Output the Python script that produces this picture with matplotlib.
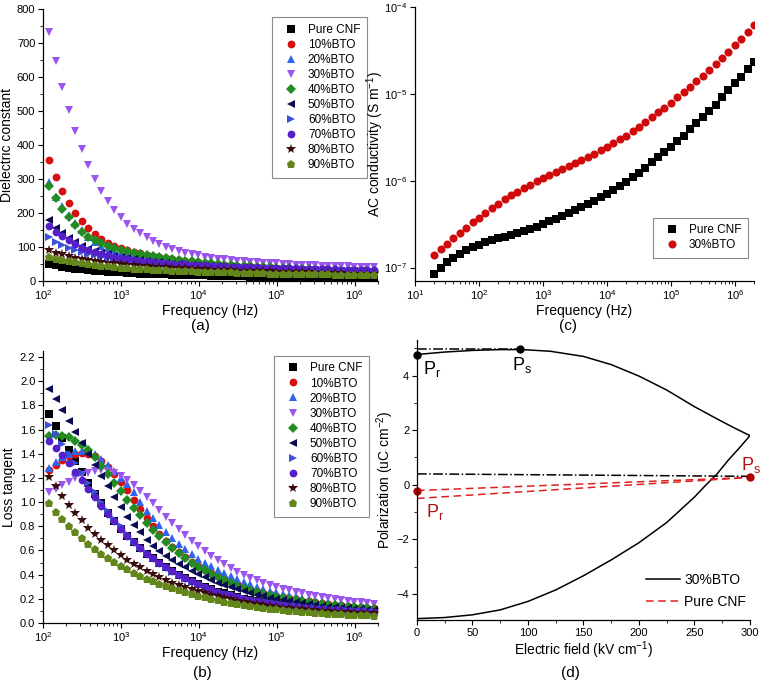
import matplotlib
matplotlib.use("Agg")
import matplotlib.pyplot as plt
from matplotlib.ticker import MultipleLocator, LogLocator, NullFormatter, NullLocator

plt.rcParams['font.family'] = ['Liberation Sans', 'DejaVu Sans']
plt.rcParams['mathtext.fontset'] = 'custom'
plt.rcParams['mathtext.rm'] = 'Liberation Sans'
plt.rcParams['mathtext.it'] = 'Liberation Sans:italic'
plt.rcParams['mathtext.default'] = 'regular'

# ---------------- data ----------------
labels = ["Pure CNF", "10%BTO", "20%BTO", "30%BTO", "40%BTO",
          "50%BTO", "60%BTO", "70%BTO", "80%BTO", "90%BTO"]

# frequencies (Hz) used in (a) and (b)
freq_ab = [120, 145, 176, 214, 259, 313, 380, 460, 557, 675, 818, 991,
           1200, 1454, 1762, 2135, 2586, 3133, 3796, 4599, 5572, 6751, 8179, 9909,
           12000, 14540, 17620, 21350, 25860, 31330, 37960, 45990, 55720, 67510, 81790, 99090,
           120000, 145400, 176200, 213500, 258600, 313300, 379600, 459900, 557200, 675100, 817900, 990900,
           1200000, 1454000, 1762000]

# (a) dielectric constant
eps_cnf = [50, 46, 42, 39, 36.5, 34, 32, 30, 28.5, 27, 26, 25, 24,
           23, 22, 21, 20.5, 20, 19.5, 19, 18.5, 18, 17.5,
           17, 16.5, 16, 15.5, 15, 14.5, 14, 13.5, 13, 12.5,
           12, 11.5, 11, 11, 10.5, 10.5, 10, 10, 9.5, 9.5,
           9, 9, 8.5, 8.5, 8, 8, 8, 7.5]
eps_10 = [357, 307, 265, 229, 200, 175, 155, 138, 124, 113, 104, 97, 91,
          86, 81, 77, 73, 70, 67, 64, 61, 59, 57,
          55, 53, 51, 49.5, 48, 46.5, 45, 44, 43, 42,
          41, 40, 39, 38, 37, 36.5, 36, 35, 34.5, 34,
          33.5, 33, 32.5, 32, 31.5, 31, 30.5, 30]
eps_20 = [290, 248, 222, 195, 172, 150, 130, 116, 104, 96, 90, 86, 82,
          78, 75, 72, 69, 66, 63, 61, 59, 57, 55,
          53, 51, 49.5, 48, 46.5, 45, 44, 43, 42, 41,
          40, 39, 38, 37.5, 37, 36, 35.5, 35, 34.5, 34,
          33.5, 33, 32.5, 32, 31.5, 31, 30.5, 30]
eps_30 = [731, 646, 570, 502, 442, 388, 340, 300, 265, 235, 209, 187, 168,
          153, 140, 128, 118, 109, 101, 94, 88, 83, 79,
          75, 72, 69, 66, 64, 62, 60, 58, 56.5, 55,
          54, 52.5, 51.5, 50.5, 49.5, 48.5, 47.5, 46.5, 46, 45,
          44.5, 44, 43.5, 43, 42.5, 42, 41.5, 41]
eps_40 = [278, 243, 211, 188, 165, 145, 130, 120, 111, 103, 96, 91, 87,
          83, 79, 76, 73, 70, 67, 64, 62, 60, 58,
          56, 54, 52, 50, 48.5, 47, 45.5, 44, 43, 42,
          41, 40, 39, 38, 37, 36, 35, 34, 33, 32,
          31.5, 31, 30.5, 30, 29.5, 29, 28.5, 28]
eps_50 = [178, 157, 140, 126, 114, 103, 95, 88, 83, 78, 74, 70, 67,
          64, 61, 59, 57, 55, 53, 51, 49.5, 48, 46.5,
          45, 44, 43, 42, 41, 40, 39, 38, 37, 36,
          35.5, 35, 34.5, 34, 33.5, 33, 32.5, 32, 31.5, 31,
          30.5, 30, 29.5, 29, 28.5, 28, 27.5, 27]
eps_60 = [128, 116, 106, 98, 91, 85, 80, 75, 71, 68, 65, 62, 60,
          58, 56, 54, 52, 50.5, 49, 47.5, 46, 45, 44,
          43, 42, 41, 40, 39, 38, 37.5, 37, 36.5, 36,
          35.5, 35, 34.5, 34, 33.5, 33, 32.5, 32, 31.5, 31,
          30.5, 30, 29.5, 29, 28.5, 28, 27.5, 27]
eps_70 = [162, 145, 132, 120, 108, 98, 90, 84, 79, 75, 71, 68, 65,
          62, 60, 58, 56, 54, 52.5, 51, 50, 49, 48,
          47, 46, 45, 44, 43, 42, 41.5, 41, 40.5, 40,
          39.5, 39, 38.5, 38, 37.5, 37, 36.5, 36, 35.5, 35,
          34.5, 34, 33.5, 33, 32.5, 32, 31.5, 31]
eps_80 = [90, 83, 78, 73, 69, 65, 62, 59, 56, 54, 52, 50, 48,
          46.5, 45, 43.5, 42, 41, 40, 39, 38, 37, 36,
          35, 34, 33, 32, 31.5, 31, 30.5, 30, 29.5, 29,
          28.5, 28, 27.5, 27, 26.5, 26, 25.5, 25, 24.5, 24,
          23.5, 23, 22.5, 22, 21.5, 21, 20.5, 20]
eps_90 = [71, 66, 62, 58, 55, 52, 49.5, 47, 45, 43, 41, 39.5, 38,
          36.5, 35, 34, 33, 32, 31, 30, 29, 28.5, 28,
          27.5, 27, 26.5, 26, 25.5, 25, 24.5, 24, 23.5, 23,
          22.5, 22, 21.5, 21, 21, 20.5, 20.5, 20, 20, 19.5,
          19.5, 19, 19, 18.5, 18.5, 18, 18, 17.5]

# (b) loss tangent
tan_cnf = [1.73, 1.63, 1.53, 1.43, 1.34, 1.25, 1.16, 1.07, 0.99, 0.91,
           0.84, 0.78, 0.72, 0.67, 0.62, 0.575, 0.535, 0.495, 0.46, 0.43,
           0.40, 0.37, 0.345, 0.32, 0.30, 0.28, 0.26, 0.245, 0.23, 0.215,
           0.2, 0.19, 0.18, 0.17, 0.162, 0.154, 0.147, 0.14, 0.134, 0.128,
           0.123, 0.118, 0.114, 0.11, 0.107, 0.104, 0.101, 0.098, 0.096, 0.094,
           0.092]
tan_10 = [1.27, 1.31, 1.35, 1.38, 1.40, 1.405, 1.40, 1.38, 1.34, 1.29,
          1.23, 1.17, 1.10, 1.02, 0.94, 0.87, 0.80, 0.74, 0.68, 0.63,
          0.585, 0.545, 0.505, 0.47, 0.44, 0.41, 0.385, 0.36, 0.34, 0.32,
          0.30, 0.28, 0.265, 0.25, 0.237, 0.225, 0.214, 0.204, 0.195, 0.186,
          0.178, 0.171, 0.164, 0.158, 0.152, 0.146, 0.141, 0.136, 0.132, 0.128,
          0.124]
tan_20 = [1.28, 1.33, 1.37, 1.40, 1.42, 1.425, 1.42, 1.40, 1.36, 1.31,
          1.26, 1.20, 1.15, 1.08, 1.00, 0.93, 0.87, 0.81, 0.75, 0.70,
          0.65, 0.61, 0.57, 0.53, 0.50, 0.47, 0.44, 0.41, 0.385, 0.36,
          0.34, 0.32, 0.30, 0.283, 0.268, 0.254, 0.242, 0.23, 0.22, 0.21,
          0.2, 0.191, 0.183, 0.175, 0.168, 0.162, 0.156, 0.15, 0.145, 0.14,
          0.135]
tan_30 = [1.08, 1.11, 1.14, 1.17, 1.20, 1.225, 1.245, 1.258, 1.262, 1.258,
          1.245, 1.22, 1.185, 1.14, 1.09, 1.04, 0.99, 0.935, 0.88, 0.825,
          0.775, 0.725, 0.68, 0.635, 0.595, 0.555, 0.52, 0.485, 0.455, 0.425,
          0.40, 0.375, 0.355, 0.335, 0.315, 0.30, 0.285, 0.27, 0.257, 0.245,
          0.234, 0.224, 0.215, 0.206, 0.198, 0.19, 0.183, 0.176, 0.17, 0.164,
          0.158]
tan_40 = [1.545, 1.555, 1.55, 1.535, 1.51, 1.475, 1.43, 1.37, 1.30, 1.23,
          1.16, 1.09, 1.02, 0.95, 0.89, 0.83, 0.77, 0.72, 0.67, 0.62,
          0.58, 0.54, 0.50, 0.465, 0.435, 0.405, 0.38, 0.355, 0.33, 0.31,
          0.29, 0.272, 0.256, 0.242, 0.229, 0.217, 0.206, 0.196, 0.187, 0.179,
          0.171, 0.164, 0.157, 0.151, 0.145, 0.14, 0.135, 0.13, 0.126, 0.122,
          0.118]
tan_50 = [1.94, 1.85, 1.76, 1.67, 1.58, 1.49, 1.40, 1.31, 1.22, 1.13,
          1.04, 0.96, 0.88, 0.81, 0.75, 0.69, 0.64, 0.595, 0.555, 0.52,
          0.49, 0.46, 0.43, 0.405, 0.38, 0.355, 0.335, 0.315, 0.295, 0.278,
          0.262, 0.247, 0.233, 0.22, 0.208, 0.197, 0.187, 0.178, 0.17, 0.162,
          0.155, 0.148, 0.142, 0.136, 0.131, 0.126, 0.121, 0.117, 0.113, 0.11,
          0.107]
tan_60 = [1.64, 1.56, 1.48, 1.40, 1.32, 1.24, 1.16, 1.08, 1.00, 0.93,
          0.86, 0.80, 0.74, 0.68, 0.63, 0.58, 0.535, 0.495, 0.46, 0.425,
          0.395, 0.365, 0.34, 0.315, 0.295, 0.275, 0.258, 0.242, 0.228, 0.215,
          0.203, 0.192, 0.182, 0.173, 0.165, 0.157, 0.15, 0.143, 0.137, 0.131,
          0.126, 0.121, 0.117, 0.113, 0.109, 0.106, 0.103, 0.1, 0.098, 0.096,
          0.094]
tan_70 = [1.51, 1.45, 1.39, 1.32, 1.25, 1.18, 1.11, 1.04, 0.97, 0.90,
          0.84, 0.78, 0.72, 0.67, 0.62, 0.575, 0.535, 0.495, 0.46, 0.43,
          0.40, 0.37, 0.345, 0.32, 0.30, 0.28, 0.26, 0.243, 0.228, 0.214,
          0.201, 0.19, 0.18, 0.17, 0.162, 0.154, 0.147, 0.14, 0.134, 0.128,
          0.123, 0.118, 0.114, 0.11, 0.107, 0.104, 0.101, 0.099, 0.097, 0.095,
          0.093]
tan_80 = [1.21, 1.13, 1.05, 0.98, 0.91, 0.85, 0.79, 0.74, 0.69, 0.645,
          0.60, 0.56, 0.525, 0.49, 0.46, 0.43, 0.405, 0.38, 0.355, 0.335,
          0.315, 0.295, 0.278, 0.262, 0.247, 0.233, 0.22, 0.207, 0.195, 0.184,
          0.174, 0.165, 0.156, 0.148, 0.141, 0.134, 0.128, 0.122, 0.117, 0.112,
          0.108, 0.104, 0.1, 0.097, 0.094, 0.091, 0.088, 0.086, 0.084, 0.082,
          0.08]
tan_90 = [0.99, 0.92, 0.86, 0.80, 0.75, 0.70, 0.655, 0.615, 0.575, 0.54,
          0.505, 0.475, 0.445, 0.415, 0.39, 0.365, 0.345, 0.325, 0.305, 0.287,
          0.27, 0.255, 0.24, 0.226, 0.213, 0.2, 0.188, 0.177, 0.167, 0.157,
          0.148, 0.14, 0.132, 0.125, 0.118, 0.112, 0.106, 0.101, 0.096, 0.092,
          0.088, 0.084, 0.081, 0.078, 0.075, 0.072, 0.07, 0.068, 0.066, 0.064,
          0.062]

# (c) AC conductivity (S/m)
freq_c = [20, 25.2, 31.7, 39.9, 50.2, 63.2, 79.6, 100, 126, 159,
          200, 252, 317, 399, 502, 632, 796, 1000, 1260, 1590,
          2000, 2520, 3170, 3990, 5020, 6320, 7960, 10000, 12600, 15900,
          20000, 25200, 31700, 39900, 50200, 63200, 79600, 100000, 126000, 159000,
          200000, 252000, 317000, 399000, 502000, 632000, 796000, 1000000, 1260000, 1590000,
          2000000]
sig_cnf = [8.32e-8, 9.89e-8, 1.15e-7, 1.30e-7, 1.45e-7, 1.58e-7, 1.72e-7, 1.84e-7, 1.95e-7, 2.07e-7,
           2.16e-7, 2.26e-7, 2.37e-7, 2.48e-7, 2.63e-7, 2.75e-7, 2.95e-7, 3.16e-7, 3.39e-7, 3.63e-7,
           3.89e-7, 4.22e-7, 4.57e-7, 5.01e-7, 5.43e-7, 5.89e-7, 6.46e-7, 7.08e-7, 7.85e-7, 8.71e-7,
           9.77e-7, 1.10e-6, 1.24e-6, 1.41e-6, 1.62e-6, 1.86e-6, 2.14e-6, 2.45e-6, 2.85e-6, 3.31e-6,
           3.89e-6, 4.57e-6, 5.37e-6, 6.31e-6, 7.50e-6, 9.12e-6, 1.10e-5, 1.32e-5, 1.58e-5, 1.93e-5,
           2.34e-5]
sig_30 = [1.38e-7, 1.62e-7, 1.86e-7, 2.16e-7, 2.51e-7, 2.88e-7, 3.31e-7, 3.76e-7, 4.27e-7, 4.84e-7,
          5.43e-7, 6.10e-7, 6.76e-7, 7.50e-7, 8.22e-7, 9.02e-7, 9.89e-7, 1.07e-6, 1.16e-6, 1.26e-6,
          1.36e-6, 1.48e-6, 1.60e-6, 1.74e-6, 1.88e-6, 2.04e-6, 2.24e-6, 2.45e-6, 2.69e-6, 2.99e-6,
          3.31e-6, 3.72e-6, 4.17e-6, 4.73e-6, 5.37e-6, 6.10e-6, 6.92e-6, 7.94e-6, 9.12e-6, 1.05e-5,
          1.20e-5, 1.40e-5, 1.62e-5, 1.88e-5, 2.21e-5, 2.60e-5, 3.05e-5, 3.63e-5, 4.32e-5, 5.19e-5,
          6.24e-5]

# (d) P-E loops
E_loop = [0, 25, 50, 75, 95, 120, 150, 175, 200, 225, 250, 270, 285, 300,
          290, 280, 270, 260, 250, 225, 200, 175, 150, 125, 100, 75, 50, 25, 0]
P_loop = [4.77, 4.86, 4.92, 4.95, 4.95, 4.89, 4.70, 4.40, 3.98, 3.47, 2.86, 2.42, 2.10, 1.80,
          1.33, 0.88, 0.38, -0.02, -0.45, -1.38, -2.12, -2.75, -3.33, -3.85, -4.27, -4.58, -4.76, -4.86, -4.90]
E_line = [0, 300]
P_cnf_up = [-0.21, 0.27]
P_cnf_low = [-0.50, 0.27]
P_guide = [0.40, 0.31]
E_ps_bto = [0, 93]
P_ps_bto = [4.97, 4.97]
Pr_bto, Ps_bto = (0, 4.77), (93, 4.97)
Pr_cnf, Ps_cnf = (0, -0.21), (300, 0.27)

eps_all = [eps_cnf, eps_10, eps_20, eps_30, eps_40, eps_50, eps_60, eps_70, eps_80, eps_90]
tan_all = [tan_cnf, tan_10, tan_20, tan_30, tan_40, tan_50, tan_60, tan_70, tan_80, tan_90]

markers = ['s', 'o', '^', 'v', 'D', '<', '>', 'o', '*', 'p']
colors = ['black', '#D61010', '#2E64F0', '#9A55EE', '#228B22',
          '#0A0A55', '#3D50D8', '#5520C8', '#3A0C0C', '#63861A']
sizes = [5.2, 5.6, 6.3, 6.3, 5.0, 6.3, 6.3, 5.6, 7.5, 6.3]

fig = plt.figure(figsize=(7.62, 6.85), dpi=100)


def style(ax):
    ax.spines['top'].set_visible(False)
    ax.spines['right'].set_visible(False)
    for s in ['left', 'bottom']:
        ax.spines[s].set_linewidth(0.9)
    ax.tick_params(which='major', direction='out', length=3.5, width=0.8, labelsize=8, pad=2)
    ax.tick_params(which='minor', direction='out', length=2, width=0.6)


def freq_axis(ax, left):
    ax.set_xscale('log')
    ax.set_xlim(left, 2e6)
    ax.xaxis.set_major_locator(LogLocator(base=10, numticks=10))
    ax.xaxis.set_minor_locator(LogLocator(base=10, subs=range(2, 10), numticks=20))
    ax.xaxis.set_minor_formatter(NullFormatter())
    ax.set_xlabel("Frequency (Hz)", fontsize=10, labelpad=1)


def legend_box(ax, **kw):
    leg = ax.legend(fontsize=8.5, frameon=True, fancybox=False, edgecolor='#8a8a8a',
                    framealpha=1, labelspacing=0.26, handletextpad=0.45, borderpad=0.55,
                    handlelength=2.0, borderaxespad=0, **kw)
    leg.get_frame().set_linewidth(0.8)


# (a)
ax = fig.add_axes([0.0564, 0.5898, 0.4396, 0.397])
for ys, m, c, s, lab in zip(eps_all, markers, colors, sizes, labels):
    ax.plot(freq_ab, ys, m, color=c, ms=s, mew=0, label=lab)
freq_axis(ax, 100)
ax.set_ylim(0, 800)
ax.yaxis.set_major_locator(MultipleLocator(100))
ax.yaxis.set_minor_locator(MultipleLocator(50))
ax.set_ylabel("Dielectric constant", fontsize=10)
ax.yaxis.set_label_coords(-0.087, 0.5)
style(ax)
legend_box(ax, loc='upper right', bbox_to_anchor=(0.967, 0.97))

# (b)
ax = fig.add_axes([0.0564, 0.0905, 0.4396, 0.397])
for ys, m, c, s, lab in zip(tan_all, markers, colors, sizes, labels):
    ax.plot(freq_ab, ys, m, color=c, ms=s, mew=0, label=lab)
freq_axis(ax, 100)
ax.set_ylim(0, 2.25)
ax.yaxis.set_major_locator(MultipleLocator(0.2))
ax.yaxis.set_minor_locator(MultipleLocator(0.1))
ax.yaxis.set_major_formatter(plt.FuncFormatter(lambda v, p: f"{v:.1f}"))
ax.set_ylabel("Loss tangent", fontsize=10)
ax.yaxis.set_label_coords(-0.08, 0.5)
style(ax)
legend_box(ax, loc='upper right', bbox_to_anchor=(0.973, 0.982))

# (c)
ax = fig.add_axes([0.5446, 0.5898, 0.4449, 0.40])
ax.plot(freq_c, sig_cnf, 's', color='black', ms=5.2, mew=0, label="Pure CNF")
ax.plot(freq_c, sig_30, 'o', color='#D00A0A', ms=5.8, mew=0, label="30%BTO")
freq_axis(ax, 10)
ax.set_yscale('log')
ax.set_ylim(7e-8, 1e-4)
ax.yaxis.set_major_locator(LogLocator(base=10, numticks=10))
ax.yaxis.set_minor_locator(NullLocator())
ax.set_ylabel("AC conductivity (S m$^{-1}$)", fontsize=10)
ax.yaxis.set_label_coords(-0.085, 0.5)
style(ax)
legend_box(ax, loc='lower right', bbox_to_anchor=(0.982, 0.085))

# (d)
ax = fig.add_axes([0.5472, 0.0949, 0.437, 0.4087])
ax.plot(E_loop, P_loop, '-', color='black', lw=1.1, label="30%BTO")
ax.plot(E_line, P_cnf_up, '--', color='#E02020', lw=1.1, dashes=(5, 3), label="Pure CNF")
ax.plot(E_line, P_cnf_low, '--', color='#E02020', lw=1.1, dashes=(5, 3))
ax.plot(E_line, P_guide, '-.', color='black', lw=1.1)
ax.plot(E_ps_bto, P_ps_bto, '-.', color='black', lw=1.1)
ax.plot([Pr_bto[0], Ps_bto[0]], [Pr_bto[1], Ps_bto[1]], 'o', color='black', ms=5, clip_on=False)
ax.plot([Pr_cnf[0], Ps_cnf[0]], [Pr_cnf[1], Ps_cnf[1]], 'o', color='#B00000', ms=5, clip_on=False)
ax.text(5, 4.25, r"P$_\mathregular{r}$", fontsize=13, va='center', ha='left')
ax.text(86, 4.38, r"P$_\mathregular{s}$", fontsize=13, va='center', ha='left')
ax.text(292, 0.73, r"P$_\mathregular{s}$", fontsize=13, va='center', ha='left', color='#B01515')
ax.text(8, -0.98, r"P$_\mathregular{r}$", fontsize=13, va='center', ha='left', color='#B01515')
ax.set_xlim(0, 300)
ax.set_ylim(-4.95, 5.3)
ax.xaxis.set_major_locator(MultipleLocator(50))
ax.xaxis.set_minor_locator(MultipleLocator(25))
ax.yaxis.set_major_locator(MultipleLocator(2))
ax.yaxis.set_minor_locator(MultipleLocator(1))
ax.set_xlabel("Electric field (kV cm$^{-1}$)", fontsize=10, labelpad=1)
ax.set_ylabel("Polarization (uC cm$^{-2}$)", fontsize=10)
ax.yaxis.set_label_coords(-0.064, 0.5)
style(ax)
leg = ax.legend(loc='lower right', bbox_to_anchor=(1.025, -0.005), frameon=False, fontsize=10,
                handlelength=2.4, labelspacing=0.55, handletextpad=0.3)

# panel letters
fig.text(0.263, 0.524, "(a)", fontsize=11, ha='center', va='center')
fig.text(0.265, 0.017, "(b)", fontsize=11, ha='center', va='center')
fig.text(0.745, 0.524, "(c)", fontsize=11, ha='center', va='center')
fig.text(0.749, 0.017, "(d)", fontsize=11, ha='center', va='center')

fig.savefig("out.png", dpi=100)
